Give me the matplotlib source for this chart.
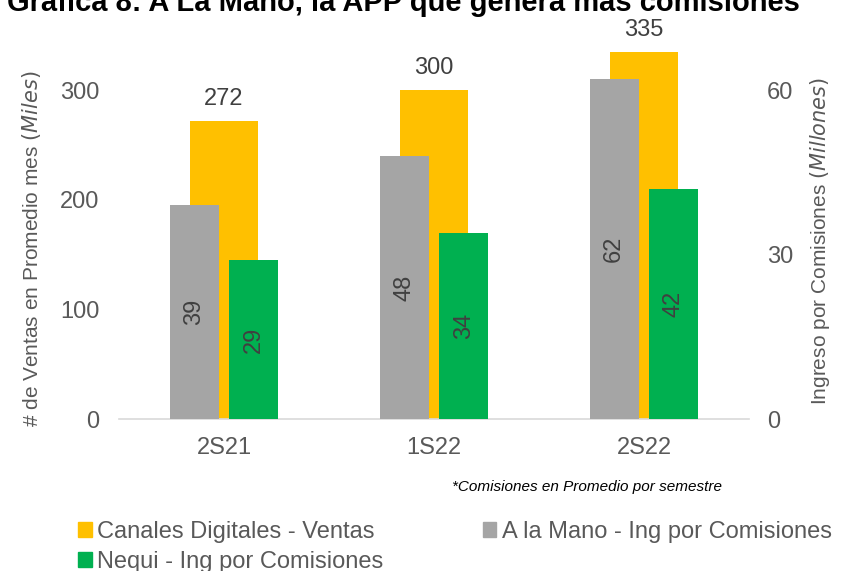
import matplotlib.pyplot as plt
from matplotlib.patches import Patch
import numpy as np

plt.rcParams['font.family'] = ['Liberation Sans', 'DejaVu Sans']

# data
periodos = ['2S21', '1S22', '2S22']
ventas_digitales = [272, 300, 335]      # miles, eje izquierdo
com_alamano = [39, 48, 62]              # millones, eje derecho
com_nequi = [29, 34, 42]                # millones, eje derecho

amarillo = '#FFC000'
gris = '#A5A5A5'
verde = '#00B050'
txt = '#595959'
txt_val = '#404040'

fig = plt.figure(figsize=(8.42, 5.71), dpi=100)
ax = fig.add_axes([0.1413, 0.2657, 0.7482, 0.6723])
ax2 = ax.twinx()

x = np.arange(len(periodos))
ax.bar(x, ventas_digitales, width=0.32, color=amarillo, zorder=2)
for xi, v in zip(x, ventas_digitales):
    ax.text(xi, v + 10, str(v), ha='center', va='bottom', fontsize=17, color=txt_val)

off = 0.142
w2 = 0.233
ax2.bar(x - off, com_alamano, width=w2, color=gris)
ax2.bar(x + off, com_nequi, width=w2, color=verde)
for xi, v in zip(x - off, com_alamano):
    ax2.text(xi, v / 2, str(v), ha='center', va='center', rotation=90, fontsize=17, color=txt_val)
for xi, v in zip(x + off, com_nequi):
    ax2.text(xi, v / 2, str(v), ha='center', va='center', rotation=90, fontsize=17, color=txt_val)

ax.set_xlim(-0.5, 2.5)
ax.set_ylim(0, 350)
ax2.set_ylim(0, 70)
ax.set_yticks([0, 100, 200, 300])
ax2.set_yticks([0, 30, 60])
ax.set_xticks(x)
ax.set_xticklabels(periodos)

for a in (ax, ax2):
    for s in ['top', 'left', 'right']:
        a.spines[s].set_visible(False)
    a.spines['bottom'].set_color('#D9D9D9')
    a.spines['bottom'].set_linewidth(1.2)
ax2.spines['bottom'].set_visible(False)

ax.tick_params(axis='both', length=0, labelsize=17, labelcolor=txt)
ax.tick_params(axis='y', pad=14)
ax.tick_params(axis='x', pad=13)
ax2.tick_params(axis='y', length=0, labelsize=17, labelcolor=txt, pad=13)

fig.text(0.037, 0.565, '# de Ventas en Promedio mes $\\it{(Miles)}$', rotation=90,
         ha='center', va='center', fontsize=15, color=txt)
fig.text(0.974, 0.578, 'Ingreso por Comisiones $\\it{(Millones)}$', rotation=90,
         ha='center', va='center', fontsize=15, color=txt)

fig.text(0.008, 1 - 11 / 571, 'Gráfica 8: A La Mano, la APP que genera más comisiones',
         ha='left', va='baseline', fontsize=21, fontweight='bold', color='black')

fig.text(0.537, 1 - 487 / 571, '*Comisiones en Promedio por semestre', ha='left', va='center',
         fontsize=11, style='italic', color='black')

handles = [Patch(color=amarillo), Patch(color=verde), Patch(color=gris)]
labels = ['Canales Digitales - Ventas', 'Nequi - Ing por Comisiones', 'A la Mano - Ing por Comisiones']
leg = fig.legend(handles, labels, ncol=2, loc='upper left', bbox_to_anchor=(0.093, 1 - 521 / 571),
                 frameon=False, fontsize=17, handlelength=0.58, handleheight=0.58,
                 handletextpad=0.22, columnspacing=4.2, labelspacing=0.32, borderpad=0,
                 borderaxespad=0, labelcolor=txt)

fig.savefig('out.png', dpi=100)
